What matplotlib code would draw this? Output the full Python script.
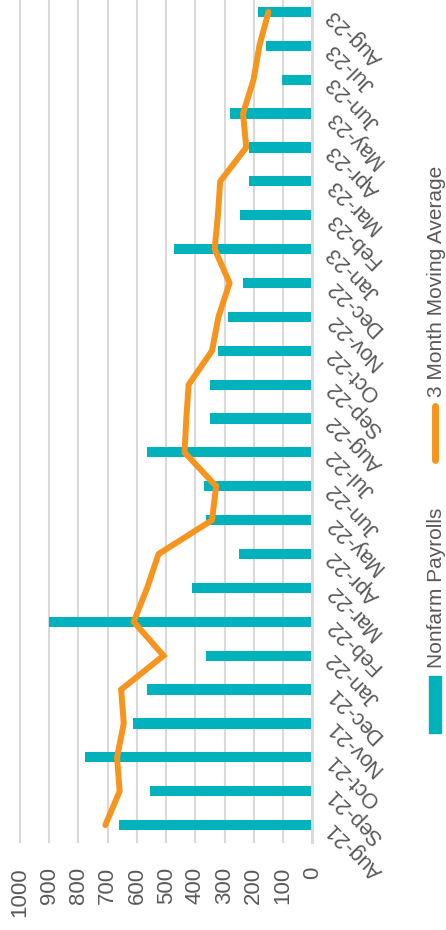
import matplotlib
matplotlib.use('Agg')
import matplotlib.pyplot as plt
import numpy as np

plt.rcParams['font.family'] = ['Liberation Sans', 'DejaVu Sans']

months = ['Aug-21', 'Sep-21', 'Oct-21', 'Nov-21', 'Dec-21', 'Jan-22', 'Feb-22',
          'Mar-22', 'Apr-22', 'May-22', 'Jun-22', 'Jul-22', 'Aug-22', 'Sep-22',
          'Oct-22', 'Nov-22', 'Dec-22', 'Jan-23', 'Feb-23', 'Mar-23', 'Apr-23',
          'May-23', 'Jun-23', 'Jul-23', 'Aug-23']
payrolls = [660, 554, 777, 612, 567, 363, 900, 413, 252, 363, 369, 567, 350,
            349, 322, 289, 238, 472, 247, 217, 217, 281, 105, 157, 186]
moving_avg = [708, 659, 668, 645, 654, 509, 611, 565, 526, 343, 329, 437, 431,
              423, 343, 321, 283, 334, 323, 315, 226, 237, 201, 181, 150]
value_ticks = list(range(0, 1001, 100))

teal = '#00B2BB'
orange = '#F7941D'
grey_text = '#595959'
grid_col = '#D9D9D9'

W, H = 446, 930
fig = plt.figure(figsize=(W / 100, H / 100), dpi=100)
ax = fig.add_axes([20 / W, 88 / H, 292.3 / W, 847 / H])

y = np.arange(len(months))
ax.barh(y, payrolls, height=0.3, color=teal, zorder=2)
ax.plot(moving_avg, y, color=orange, lw=4.3, solid_capstyle='round',
        solid_joinstyle='miter', zorder=3)

ax.set_xlim(1000, 0)
ax.set_ylim(-0.5, 24.5)
ax.set_xticks(value_ticks)
ax.set_xticklabels([str(v) for v in value_ticks], rotation=90)
ax.set_yticks(y)
ax.set_yticklabels(months)
ax.yaxis.tick_right()
ax.tick_params(axis='x', length=0, pad=18, labelsize=16, labelcolor=grey_text)
ax.tick_params(axis='y', length=0, pad=13, labelsize=15.5, labelcolor=grey_text)
plt.setp(ax.get_yticklabels(), rotation=135, ha='right', va='center',
         rotation_mode='anchor')

ax.grid(axis='x', color=grid_col, lw=1.5, zorder=0)
for gl in ax.xaxis.get_gridlines():
    gl.set_clip_on(False)
for s in ['top', 'bottom', 'left']:
    ax.spines[s].set_visible(False)
ax.spines['right'].set_color(grid_col)
ax.spines['right'].set_linewidth(2)
ax.spines['right'].set_zorder(4)

# legend, drawn rotated like the rest of the chart
fig.patches.append(plt.Rectangle((429 / W, (H - 733) / H), 12 / W, 57 / H,
                                 transform=fig.transFigure, color=teal))
fig.text(436 / W, (H - 668) / H, 'Nonfarm Payrolls', rotation=90, ha='center',
         va='bottom', fontsize=15, color=grey_text)
fig.lines.append(plt.Line2D([435 / W, 435 / W], [(H - 460) / H, (H - 406) / H],
                            transform=fig.transFigure, color=orange, lw=5,
                            solid_capstyle='round'))
fig.text(436 / W, (H - 397) / H, '3 Month Moving Average', rotation=90,
         ha='center', va='bottom', fontsize=15, color=grey_text)

fig.savefig('out.png', dpi=100)
